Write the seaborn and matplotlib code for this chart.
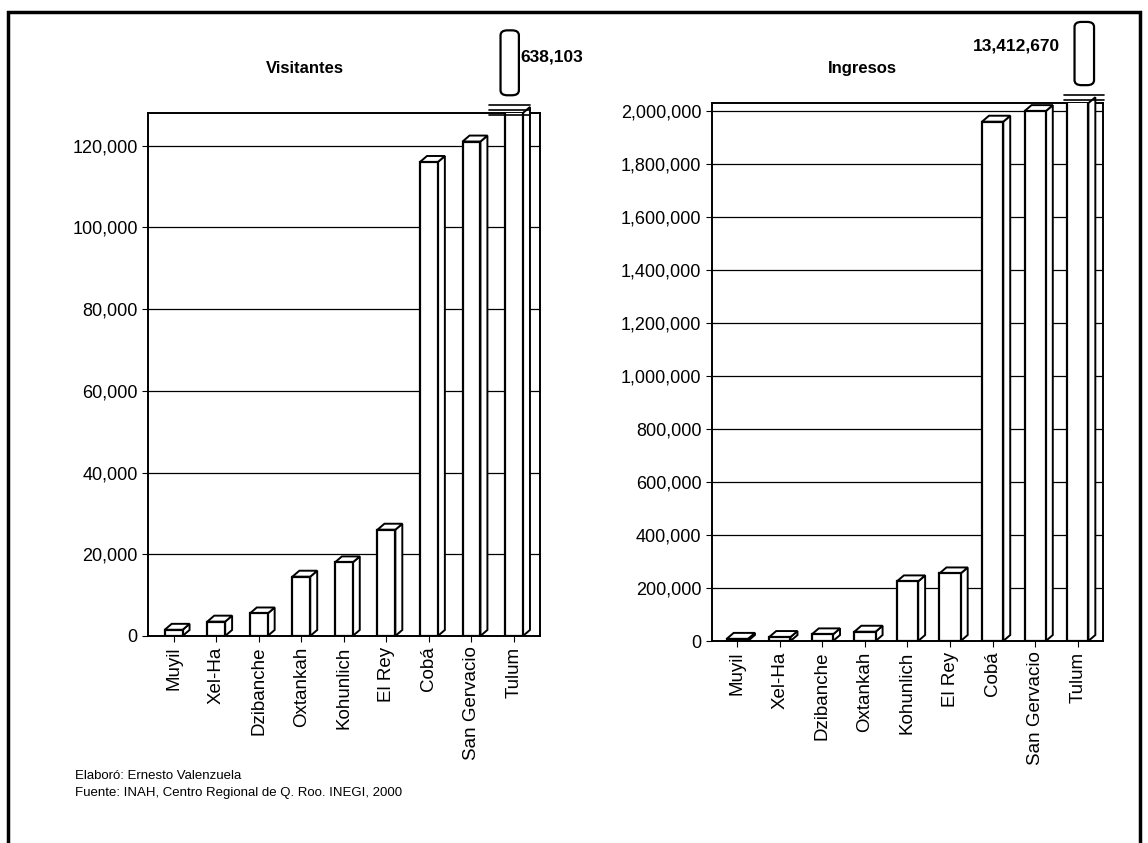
from matplotlib import pyplot as plt
from matplotlib.patches import Polygon, FancyBboxPatch, Rectangle
from matplotlib.ticker import FuncFormatter
import numpy as np
import pandas as pd
import seaborn as sns

# ----- Datos -----
sitios = ['Muyil', 'Xel-Ha', 'Dzibanche', 'Oxtankah', 'Kohunlich',
          'El Rey', 'Cobá', 'San Gervacio', 'Tulum']
visitantes = [1500, 3500, 5500, 14500, 18000, 26000, 116000, 121000, 638103]
ingresos = [8000, 15000, 25000, 35000, 225000, 255000, 1960000, 2000000, 13412670]

vis_ticks = [0, 20000, 40000, 60000, 80000, 100000, 120000]
ing_ticks = [0, 200000, 400000, 600000, 800000, 1000000, 1200000,
             1400000, 1600000, 1800000, 2000000]

etiqueta_vis = '638,103'
etiqueta_ing = '13,412,670'

sns.set_style('white')
plt.rcParams['font.family'] = ['Liberation Sans', 'DejaVu Sans']
plt.rcParams['text.color'] = 'black'
plt.rcParams['xtick.color'] = 'black'
plt.rcParams['ytick.color'] = 'black'

fig = plt.figure(figsize=(11.48, 8.43), dpi=100)

# marco exterior
fig.patches.append(Rectangle((0.007, -0.01), 0.986, 0.996, transform=fig.transFigure,
                             fill=False, lw=2.5, edgecolor='black'))

ax1 = fig.add_axes([0.129, 0.2456, 0.341, 0.6204])
ax2 = fig.add_axes([0.620, 0.2396, 0.341, 0.638])


def panel(ax, valores, ticks, ymax, ancho):
    df = pd.DataFrame({'sitio': sitios, 'valor': valores})
    sns.barplot(data=df, x='sitio', y='valor', ax=ax, color='white',
                edgecolor='black', linewidth=1.6, width=ancho, zorder=3)
    ax.set_ylim(0, ymax)
    ax.set_xlim(-0.6, len(sitios) - 0.4)
    ax.set_yticks(ticks)
    ax.yaxis.set_major_formatter(FuncFormatter(lambda v, p: f'{int(v):,}'))
    for t in ticks[1:]:
        ax.axhline(t, color='black', lw=0.9, zorder=1)
    ax.set_xlabel('')
    ax.set_ylabel('')
    ax.tick_params(axis='x', rotation=90, labelsize=13.5, length=4, direction='out',
                   bottom=True, labelcolor='black')
    ax.tick_params(axis='y', labelsize=13, length=4, direction='out', left=True,
                   labelcolor='black')
    for s in ax.spines.values():
        s.set_linewidth(1.4)
        s.set_color('black')

    # caras laterales y superiores (efecto 3D)
    dx, dy = 7, 6
    inv = ax.transAxes.inverted()
    for p in ax.patches:
        x0 = p.get_x()
        x1 = x0 + p.get_width()
        h = p.get_height()
        clip = h >= ymax
        h = min(h, ymax)
        a = ax.transData.transform([(x0, h), (x1, h), (x1, 0)])
        pts_top = [a[0], a[1], a[1] + [dx, dy], a[0] + [dx, dy]]
        pts_side = [a[1], a[2], a[2] + [dx, dy], a[1] + [dx, dy]]
        ax.add_patch(Polygon(inv.transform(pts_side), closed=True, facecolor='white',
                             edgecolor='black', lw=1.4, transform=ax.transAxes,
                             zorder=2.9, clip_on=False))
        if not clip:
            ax.add_patch(Polygon(inv.transform(pts_top), closed=True, facecolor='white',
                                 edgecolor='black', lw=1.4, transform=ax.transAxes,
                                 zorder=2.9, clip_on=False))


panel(ax1, visitantes, vis_ticks, 128000, 0.42)
panel(ax2, ingresos, ing_ticks, 2030000, 0.5)

fig.text(0.266, 0.919, 'Visitantes', fontsize=12, fontweight='bold', ha='center', va='center')
fig.text(0.751, 0.919, 'Ingresos', fontsize=12, fontweight='bold', ha='center', va='center')

# simbolos de escala rota
for (x, y, w, h) in [(0.436, 0.887, 0.016, 0.077), (0.936, 0.899, 0.017, 0.075)]:
    fig.patches.append(FancyBboxPatch((x, y), w, h, boxstyle='round,pad=0,rounding_size=0.006',
                                      transform=fig.transFigure, fill=False, lw=1.6,
                                      edgecolor='black'))
for yy in [0.875, 0.869, 0.863]:
    fig.add_artist(plt.Line2D([0.426, 0.462], [yy, yy], color='black', lw=1.2))
for yy in [0.887, 0.881]:
    fig.add_artist(plt.Line2D([0.927, 0.962], [yy, yy], color='black', lw=1.2))

fig.text(0.453, 0.932, etiqueta_vis, fontsize=12.5, fontweight='bold', va='center', ha='left')
fig.text(0.923, 0.945, etiqueta_ing, fontsize=12.5, fontweight='bold', va='center', ha='right')

fig.text(0.065, 0.079, 'Elaboró: Ernesto Valenzuela', fontsize=9.5, va='center')
fig.text(0.065, 0.059, 'Fuente: INAH, Centro Regional de Q. Roo. INEGI, 2000',
         fontsize=9.5, va='center')

plt.savefig('out.png', dpi=100)
